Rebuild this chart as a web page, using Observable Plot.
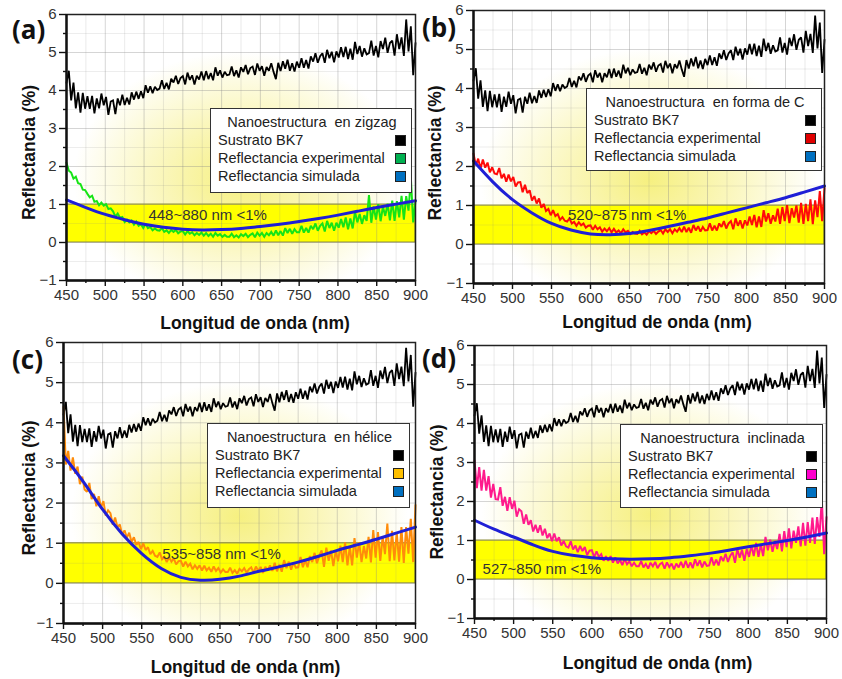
<!DOCTYPE html>
<html>
<head>
<meta charset="utf-8">
<script src="https://cdn.jsdelivr.net/npm/d3@7"></script>
<script src="https://cdn.jsdelivr.net/npm/@observablehq/plot@0.6"></script>
<style>
html,body{margin:0;padding:0;background:#fff;}
#root{position:relative;width:842px;height:679px;overflow:hidden;background:#fff;}
.plabel{position:absolute;font-family:"Open Sans","Liberation Sans",sans-serif;font-weight:700;font-size:26px;line-height:26px;color:#111;}
.legend{position:absolute;box-sizing:border-box;background:#fff;border:1.3px solid #333;font-family:"Liberation Sans",Arial,sans-serif;font-size:14.5px;color:#222;padding:4px 5px 0 7px;}
.legend .ttl{text-align:center;white-space:pre;line-height:18px;}
.legend .row{display:flex;justify-content:space-between;align-items:center;line-height:18px;white-space:pre;}
.legend .sw{width:11px;height:11px;border:1px solid #222;box-sizing:border-box;}
</style>
</head>
<body>
<svg width="0" height="0" style="position:absolute">
  <defs>
    <radialGradient id="glow" cx="0.5" cy="0.62" r="0.48">
      <stop offset="0" stop-color="#f6f080"/>
      <stop offset="0.45" stop-color="#faf6b8"/>
      <stop offset="1" stop-color="#ffffff"/>
    </radialGradient>
  </defs>
</svg>
<div id="root"></div>
<script>
// ---------- DATA ----------
const wavelength = [
450,453,456,459,462,465,468,471,474,477,
480,483,486,489,492,495,498,501,504,507,
510,513,516,519,522,525,528,531,534,537,
540,543,546,549,552,555,558,561,564,567,
570,573,576,579,582,585,588,591,594,597,
600,603,606,609,612,615,618,621,624,627,
630,633,636,639,642,645,648,651,654,657,
660,663,666,669,672,675,678,681,684,687,
690,693,696,699,702,705,708,711,714,717,
720,723,726,729,732,735,738,741,744,747,
750,753,756,759,762,765,768,771,774,777,
780,783,786,789,792,795,798,801,804,807,
810,813,816,819,822,825,828,831,834,837,
840,843,846,849,852,855,858,861,864,867,
870,873,876,879,882,885,888,891,894,897,
900];

const substrateBK7 = [
4.20,4.52,3.74,4.21,3.53,3.95,3.42,3.94,3.52,3.85,
3.52,3.86,3.40,3.79,3.53,3.92,3.61,3.83,3.36,3.71,
3.74,3.38,3.79,3.61,3.89,3.62,3.81,3.63,3.95,3.76,
3.97,3.78,3.98,3.80,4.14,3.94,4.11,3.93,4.10,4.01,
4.05,4.27,4.04,4.20,4.03,4.31,4.21,4.39,4.17,4.33,
4.38,4.16,4.47,4.28,4.40,4.16,4.39,4.29,4.50,4.27,
4.51,4.30,4.46,4.27,4.61,4.39,4.53,4.34,4.49,4.40,
4.42,4.63,4.38,4.53,4.34,4.61,4.49,4.67,4.43,4.59,
4.63,4.41,4.71,4.52,4.64,4.39,4.62,4.52,4.72,4.49,
4.30,4.73,4.51,4.77,4.57,4.81,4.52,4.72,4.50,4.76,
4.60,4.85,4.60,4.80,4.58,4.90,4.76,4.98,4.73,4.90,
4.98,4.73,5.07,4.85,5.02,4.74,5.03,4.87,5.14,4.88,
5.15,4.83,5.10,4.81,5.28,4.96,5.17,4.89,5.11,4.95,
4.98,5.31,4.92,5.17,4.87,5.30,5.09,5.39,4.99,5.25,
5.31,4.92,5.48,5.09,5.40,4.91,5.87,5.03,5.69,4.40,
5.25];

const expZigzag = [
2.10,1.89,1.84,1.68,1.73,1.56,1.54,1.39,1.38,1.28,
1.19,1.23,1.07,1.09,0.98,1.05,0.97,1.01,0.88,0.90,
0.82,0.68,0.76,0.65,0.67,0.54,0.60,0.53,0.58,0.47,
0.55,0.44,0.48,0.38,0.49,0.38,0.41,0.32,0.37,0.32,
0.31,0.38,0.28,0.32,0.25,0.33,0.28,0.33,0.24,0.29,
0.30,0.21,0.30,0.23,0.27,0.19,0.25,0.20,0.26,0.18,
0.25,0.17,0.23,0.15,0.25,0.18,0.22,0.15,0.20,0.15,
0.15,0.23,0.14,0.19,0.13,0.22,0.17,0.23,0.14,0.20,
0.24,0.14,0.26,0.18,0.25,0.15,0.25,0.19,0.28,0.18,
0.32,0.19,0.30,0.18,0.38,0.25,0.36,0.23,0.35,0.27,
0.27,0.44,0.26,0.38,0.26,0.44,0.35,0.50,0.31,0.44,
0.50,0.29,0.57,0.38,0.52,0.31,0.52,0.39,0.62,0.40,
0.66,0.35,0.63,0.37,0.81,0.53,0.75,0.49,0.72,0.57,
1.25,0.52,0.95,0.60,1.01,0.56,0.94,0.70,1.02,0.58,
1.10,0.57,1.09,0.66,1.23,0.60,1.22,0.84,1.71,0.53,
1.10];

const expFormaC = [
2.33,2.03,2.20,1.94,2.18,1.97,2.10,1.85,1.98,1.82,
1.80,1.96,1.70,1.81,1.61,1.79,1.62,1.73,1.49,1.59,
1.60,1.34,1.53,1.32,1.39,1.13,1.24,1.05,1.18,0.94,
1.04,0.86,0.91,0.75,0.88,0.73,0.78,0.63,0.70,0.61,
0.59,0.67,0.54,0.58,0.48,0.57,0.49,0.54,0.43,0.48,
0.49,0.38,0.48,0.39,0.44,0.33,0.41,0.34,0.42,0.31,
0.40,0.31,0.36,0.29,0.39,0.31,0.35,0.27,0.32,0.28,
0.27,0.35,0.26,0.31,0.25,0.34,0.29,0.35,0.27,0.33,
0.37,0.28,0.39,0.32,0.39,0.29,0.39,0.33,0.42,0.32,
0.46,0.32,0.43,0.30,0.50,0.36,0.47,0.33,0.45,0.36,
0.37,0.54,0.36,0.48,0.36,0.54,0.45,0.60,0.41,0.54,
0.60,0.39,0.67,0.48,0.62,0.41,0.62,0.49,0.72,0.50,
0.76,0.44,0.72,0.45,0.88,0.59,0.80,0.53,0.75,0.59,
0.92,0.53,0.96,0.60,1.01,0.55,0.93,0.69,1.00,0.56,
1.07,0.53,1.04,0.60,1.16,0.52,1.13,0.70,1.37,0.60,
1.45];

const expHelice = [
4.40,2.96,3.30,2.81,3.14,2.73,2.91,2.47,2.66,2.34,
2.28,2.50,2.10,2.23,1.92,2.17,1.89,2.05,1.69,1.82,
1.75,1.46,1.64,1.40,1.47,1.21,1.32,1.14,1.26,1.03,
1.15,0.96,1.03,0.85,1.00,0.83,0.90,0.73,0.81,0.69,
0.66,0.77,0.60,0.66,0.53,0.65,0.54,0.62,0.47,0.55,
0.56,0.42,0.54,0.42,0.49,0.35,0.45,0.36,0.45,0.32,
0.44,0.32,0.39,0.29,0.42,0.31,0.38,0.27,0.35,0.28,
0.28,0.39,0.26,0.33,0.24,0.36,0.30,0.38,0.27,0.35,
0.40,0.26,0.42,0.31,0.41,0.26,0.41,0.32,0.45,0.31,
0.51,0.30,0.47,0.29,0.58,0.38,0.54,0.34,0.52,0.39,
0.40,0.66,0.40,0.58,0.40,0.68,0.53,0.76,0.50,0.69,
0.82,0.41,0.89,0.56,0.82,0.43,0.81,0.55,0.94,0.53,
1.02,0.45,0.91,0.45,1.13,0.64,1.02,0.53,0.93,0.62,
1.16,0.52,1.33,0.64,1.28,0.56,1.17,0.73,1.49,0.55,
1.31,0.57,1.28,0.54,1.40,0.51,1.40,0.74,1.61,0.53,
1.95];

const expInclinada = [
3.05,2.34,2.88,2.28,2.81,2.28,2.65,2.10,2.45,2.06,
2.05,2.37,1.89,2.12,1.76,2.11,1.81,2.02,1.61,1.80,
1.75,1.43,1.67,1.40,1.52,1.23,1.40,1.20,1.39,1.13,
1.30,1.06,1.18,0.98,1.18,0.98,1.08,0.87,0.99,0.85,
0.82,0.98,0.77,0.87,0.70,0.86,0.73,0.83,0.63,0.74,
0.75,0.57,0.72,0.58,0.65,0.48,0.60,0.48,0.60,0.43,
0.57,0.41,0.50,0.37,0.53,0.39,0.47,0.34,0.43,0.34,
0.34,0.47,0.31,0.40,0.28,0.43,0.34,0.45,0.29,0.39,
0.43,0.28,0.44,0.32,0.41,0.26,0.41,0.31,0.45,0.30,
0.48,0.30,0.44,0.29,0.52,0.35,0.49,0.31,0.46,0.35,
0.36,0.57,0.36,0.51,0.36,0.59,0.47,0.66,0.45,0.61,
0.70,0.43,0.78,0.56,0.76,0.48,0.78,0.58,0.88,0.60,
0.94,0.58,0.90,0.60,1.09,0.75,1.02,0.71,0.99,0.78,
1.17,0.72,1.24,0.83,1.31,0.80,1.25,0.94,1.36,0.85,
1.45,0.87,1.47,0.94,1.59,0.91,1.60,1.09,2.07,0.65,
1.60];

const simWavelength = [450,475,500,525,550,575,600,625,650,675,700,725,750,775,800,825,850,875,900];
const simZigzag    = [1.12,0.92,0.74,0.60,0.48,0.40,0.35,0.33,0.34,0.37,0.42,0.48,0.55,0.63,0.72,0.82,0.92,1.01,1.10];
const simFormaC    = [2.14,1.60,1.15,0.81,0.54,0.37,0.27,0.25,0.28,0.36,0.46,0.57,0.68,0.81,0.94,1.07,1.20,1.35,1.50];
const simHelice    = [3.18,2.54,1.84,1.23,0.74,0.37,0.15,0.08,0.10,0.18,0.30,0.41,0.53,0.67,0.82,0.96,1.10,1.25,1.40];
const simInclinada = [1.52,1.29,1.09,0.89,0.72,0.62,0.56,0.53,0.52,0.53,0.56,0.61,0.67,0.75,0.84,0.92,1.00,1.09,1.19];

const panelLetters = ["(a)","(b)","(c)","(d)"];
const legendTitles = ["Nanoestructura  en zigzag","Nanoestructura  en forma de C","Nanoestructura  en hélice","Nanoestructura  inclinada"];
const legendRows = ["Sustrato BK7","Reflectancia experimental","Reflectancia simulada"];
const rangeLabels = ["448~880 nm <1%","520~875 nm <1%","535~858 nm <1%","527~850 nm <1%"];
const rangeAnchorX = [632, 647, 652, 536];
const rangeAnchorY = [0.73, 0.74, 0.73, 0.26];
const lowBand = [{lo: 0, hi: 1}];
const xTicks = [450,500,550,600,650,700,750,800,850,900];
const xMinorTicks = [475,525,575,625,675,725,775,825,875];
const yTicks = [-1,0,1,2,3,4,5,6];
const yMinorTicks = [-0.5,0.5,1.5,2.5,3.5,4.5,5.5];
const xDomain = [450, 900];
const yDomain = [-1, 6];
const xTitle = "Longitud de onda (nm)";
const yTitle = "Reflectancia (%)";

// ---------- STYLE / LAYOUT ----------
const expSeries = [expZigzag, expFormaC, expHelice, expInclinada];
const simSeries = [simZigzag, simFormaC, simHelice, simInclinada];
const expColors = ["#16e416", "#ff0a0a", "#ff8c0a", "#ff1a8c"];
const swatchExp = ["#00b050", "#e00000", "#ffc000", "#ff00cc"];
const swatchSub = "#000000";
const swatchSim = "#0070c0";
const simColor = "#1f1fd6";

const geom = [
  {L:66, T:14, R:415, B:280, tdx:14, tdy:43, ydx:-37, ydy:5},
  {L:473, T:10, R:824, B:283, tdx:8, tdy:39, ydx:-38, ydy:6},
  {L:63, T:342, R:415, B:623, tdx:6, tdy:44, ydx:-34, ydy:5},
  {L:474, T:345, R:826, B:618, tdx:7, tdy:45, ydx:-37, ydy:10}
];
const legendBox = [
  {l:210, t:108, w:202, h:85},
  {l:586, t:88, w:236, h:83},
  {l:207, t:423, w:203, h:85},
  {l:620, t:424, w:203, h:84}
];
const letterPos = [{l:12, t:16},{l:422, t:14},{l:12, t:346},{l:422, t:345}];
const M = {l:66, r:12, t:10, b:60};

const root = document.getElementById("root");

for (let k = 0; k < 4; k++) {
  const g = geom[k];
  const W = (g.R - g.L) + M.l + M.r;
  const H = (g.B - g.T) + M.t + M.b;
  const sub = wavelength.map((w, i) => ({w, v: substrateBK7[i]}));
  const exp = wavelength.map((w, i) => ({w, v: expSeries[k][i]}));
  const sim = simWavelength.map((w, i) => ({w, v: simSeries[k][i]}));
  const ann = [{x: rangeAnchorX[k], y: rangeAnchorY[k], t: rangeLabels[k]}];

  const plot = Plot.plot({
    width: W, height: H,
    marginLeft: M.l, marginRight: M.r, marginTop: M.t, marginBottom: M.b,
    x: {domain: xDomain, label: null},
    y: {domain: yDomain, label: null},
    style: {background: "transparent", overflow: "visible", fontFamily: "'Liberation Sans', Arial, sans-serif"},
    marks: [
      Plot.frame({fill: "url(#glow)", stroke: null}),
      Plot.rect(lowBand, {y1: "lo", y2: "hi", fill: "#ffff00", stroke: "#8c8c3a", strokeWidth: 1}),
      Plot.gridX(xMinorTicks, {stroke: "#888", strokeOpacity: 0.18}),
      Plot.gridX(xTicks, {stroke: "#888", strokeOpacity: 0.35}),
      Plot.gridY(yMinorTicks, {stroke: "#888", strokeOpacity: 0.15}),
      Plot.gridY(yTicks, {stroke: "#888", strokeOpacity: 0.35}),
      Plot.line(sub, {x: "w", y: "v", stroke: "#000", strokeWidth: 1.8, strokeLinejoin: "miter", strokeMiterlimit: 2}),
      Plot.line(exp, {x: "w", y: "v", stroke: expColors[k], strokeWidth: 2, strokeLinejoin: "miter", strokeMiterlimit: 2}),
      Plot.line(sim, {x: "w", y: "v", stroke: simColor, strokeWidth: 3, curve: "natural"}),
      Plot.text(ann, {x: "x", y: "y", text: "t", fontSize: 15, fill: "#333"}),
      Plot.frame({stroke: "#222", strokeWidth: 1.5}),
      Plot.ruleX([xDomain[0]], {stroke: "#111", strokeWidth: 2.4}),
      Plot.ruleY([yDomain[0]], {stroke: "#111", strokeWidth: 2.4}),
      Plot.axisX(xMinorTicks, {tickSize: 3, tickFormat: () => "", stroke: "#111", strokeWidth: 1.4, label: null}),
      Plot.axisX(xTicks, {tickSize: 6, tickPadding: 3, fontSize: 15, fill: "#333", stroke: "#111", strokeWidth: 1.4, label: null}),
      Plot.axisY(yMinorTicks, {tickSize: 3, tickFormat: () => "", stroke: "#111", strokeWidth: 1.4, label: null}),
      Plot.axisY(yTicks, {tickSize: 7, tickPadding: 3, fontSize: 15, fill: "#333", stroke: "#111", strokeWidth: 1.4, label: null}),
      Plot.text([xTitle], {text: d => d, frameAnchor: "bottom", textAnchor: "middle", dx: g.tdx, dy: g.tdy, lineAnchor: "middle", fontSize: 17.5, fontWeight: "bold", fill: "#111"}),
      Plot.text([yTitle], {text: d => d, frameAnchor: "left", textAnchor: "middle", rotate: -90, dx: g.ydx, dy: g.ydy, lineAnchor: "middle", fontSize: 17.5, fontWeight: "bold", fill: "#111"})
    ]
  });
  plot.style.position = "absolute";
  plot.style.left = (g.L - M.l) + "px";
  plot.style.top = (g.T - M.t) + "px";
  plot.style.maxWidth = "none";
  root.appendChild(plot);

  const lab = document.createElement("div");
  lab.className = "plabel";
  lab.textContent = panelLetters[k];
  lab.style.left = letterPos[k].l + "px";
  lab.style.top = letterPos[k].t + "px";
  root.appendChild(lab);

  const lb = legendBox[k];
  const leg = document.createElement("div");
  leg.className = "legend";
  leg.style.left = lb.l + "px"; leg.style.top = lb.t + "px";
  leg.style.width = lb.w + "px"; leg.style.height = lb.h + "px";
  const ttl = document.createElement("div");
  ttl.className = "ttl"; ttl.textContent = legendTitles[k];
  leg.appendChild(ttl);
  const sw = [swatchSub, swatchExp[k], swatchSim];
  legendRows.forEach((r, i) => {
    const row = document.createElement("div");
    row.className = "row";
    const s = document.createElement("span"); s.textContent = r;
    const b = document.createElement("span"); b.className = "sw"; b.style.background = sw[i];
    row.appendChild(s); row.appendChild(b);
    leg.appendChild(row);
  });
  root.appendChild(leg);
}
</script>
</body>
</html>
